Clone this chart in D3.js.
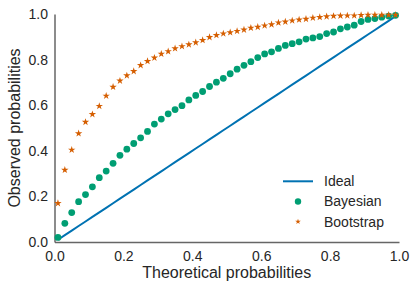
<!DOCTYPE html>
<html>
<head>
<meta charset="utf-8">
<script src="https://cdn.jsdelivr.net/npm/d3@7"></script>
<style>
  body { margin: 0; background: #fff; }
  svg { display: block; font-family: Arial, "Liberation Sans", sans-serif; }
</style>
</head>
<body>
<div id="chart"></div>
<script>
// Theoretical probabilities (x positions of the points)
const theoretical = [
  0.01, 0.03, 0.05, 0.07, 0.09, 0.11, 0.13, 0.15, 0.17, 0.19,
  0.21, 0.23, 0.25, 0.27, 0.29, 0.31, 0.33, 0.35, 0.37, 0.39,
  0.41, 0.43, 0.45, 0.47, 0.49, 0.51, 0.53, 0.55, 0.57, 0.59,
  0.61, 0.63, 0.65, 0.67, 0.69, 0.71, 0.73, 0.75, 0.77, 0.79,
  0.81, 0.83, 0.85, 0.87, 0.89, 0.91, 0.93, 0.95, 0.97, 0.99
];

// Observed probabilities, Bayesian
const bayesian = [
  0.020, 0.082, 0.129, 0.177, 0.208, 0.242, 0.282, 0.311, 0.345, 0.380,
  0.407, 0.432, 0.457, 0.485, 0.517, 0.539, 0.562, 0.581, 0.598, 0.623,
  0.643, 0.660, 0.682, 0.701, 0.718, 0.738, 0.758, 0.775, 0.791, 0.809,
  0.825, 0.834, 0.849, 0.862, 0.870, 0.878, 0.890, 0.895, 0.901, 0.914,
  0.921, 0.935, 0.943, 0.951, 0.967, 0.976, 0.980, 0.986, 0.991, 0.994
];

// Observed probabilities, Bootstrap
const bootstrap = [
  0.170, 0.316, 0.404, 0.476, 0.526, 0.560, 0.596, 0.641, 0.680, 0.707,
  0.730, 0.749, 0.775, 0.793, 0.808, 0.825, 0.836, 0.849, 0.858, 0.866,
  0.875, 0.885, 0.898, 0.907, 0.914, 0.919, 0.925, 0.931, 0.939, 0.943,
  0.949, 0.954, 0.962, 0.966, 0.971, 0.975, 0.978, 0.983, 0.986, 0.989,
  0.991, 0.992, 0.993, 0.993, 0.995, 0.996, 0.996, 0.996, 0.996, 0.996
];

const tickValues = [0.0, 0.2, 0.4, 0.6, 0.8, 1.0];
const legendLabels = ["Ideal", "Bayesian", "Bootstrap"];

const W = 416, H = 291;
const margin = { top: 14, right: 17, bottom: 49, left: 54.5 };
const width = W - margin.left - margin.right;
const height = H - margin.top - margin.bottom;

const colors = { ideal: "#0072B2", bayes: "#009E73", boot: "#D55E00" };

const svg = d3.select("#chart").append("svg")
    .attr("width", W)
    .attr("height", H);

const g = svg.append("g")
    .attr("transform", `translate(${margin.left},${margin.top})`);

const x = d3.scaleLinear().domain([0, 1]).range([0, width]);
const y = d3.scaleLinear().domain([0, 1]).range([height, 0]);

// Axes
const xAxis = g.append("g")
    .attr("transform", `translate(0,${height})`)
    .call(d3.axisBottom(x).tickValues(tickValues).tickFormat(d3.format(".1f"))
        .tickSizeInner(0).tickSizeOuter(0).tickPadding(9.5));

const yAxis = g.append("g")
    .call(d3.axisLeft(y).tickValues(tickValues).tickFormat(d3.format(".1f"))
        .tickSizeInner(0).tickSizeOuter(0).tickPadding(6.5));

[xAxis, yAxis].forEach(ax => {
    ax.select(".domain").attr("stroke", "#666").attr("stroke-width", 1.5);
    ax.selectAll("text")
        .attr("font-size", "14px")
        .attr("font-family", "Arial, 'Liberation Sans', sans-serif")
        .attr("fill", "#262626");
});

// Axis titles
svg.append("text")
    .attr("x", margin.left + width / 2)
    .attr("y", 278)
    .attr("text-anchor", "middle")
    .attr("font-size", "16px")
    .attr("fill", "#262626")
    .text("Theoretical probabilities");

svg.append("text")
    .attr("transform", `translate(20,${margin.top + height / 2}) rotate(-90)`)
    .attr("text-anchor", "middle")
    .attr("font-size", "16px")
    .attr("fill", "#262626")
    .text("Observed probabilities");

// Ideal line
const line = d3.line().x(d => x(d)).y(d => y(d));
g.append("path")
    .datum(theoretical)
    .attr("d", line)
    .attr("fill", "none")
    .attr("stroke", colors.ideal)
    .attr("stroke-width", 2);

// Bayesian points
g.selectAll(".bayes")
    .data(theoretical)
    .join("circle")
    .attr("class", "bayes")
    .attr("cx", d => x(d))
    .attr("cy", (d, i) => y(bayesian[i]))
    .attr("r", 3.4)
    .attr("fill", colors.bayes);

// Bootstrap points
const star = d3.symbol().type(d3.symbolStar).size(17);
g.selectAll(".boot")
    .data(theoretical)
    .join("path")
    .attr("class", "boot")
    .attr("d", star)
    .attr("transform", (d, i) => `translate(${x(d)},${y(bootstrap[i])})`)
    .attr("fill", colors.boot);

// Legend
const legend = svg.append("g");
const legendX = 283, legendY = 181.3, legendStep = 20.2;

legend.append("line")
    .attr("x1", legendX).attr("x2", legendX + 30)
    .attr("y1", legendY).attr("y2", legendY)
    .attr("stroke", colors.ideal)
    .attr("stroke-width", 2);

legend.append("circle")
    .attr("cx", legendX + 15)
    .attr("cy", legendY + legendStep)
    .attr("r", 3.2)
    .attr("fill", colors.bayes);

legend.append("path")
    .attr("d", d3.symbol().type(d3.symbolStar).size(10)())
    .attr("transform", `translate(${legendX + 15},${legendY + 2 * legendStep})`)
    .attr("fill", colors.boot);

legendLabels.forEach((label, i) => {
    legend.append("text")
        .attr("x", legendX + 41)
        .attr("y", legendY + i * legendStep)
        .attr("dy", "0.35em")
        .attr("font-size", "14px")
        .attr("fill", "#262626")
        .text(label);
});
</script>
</body>
</html>
